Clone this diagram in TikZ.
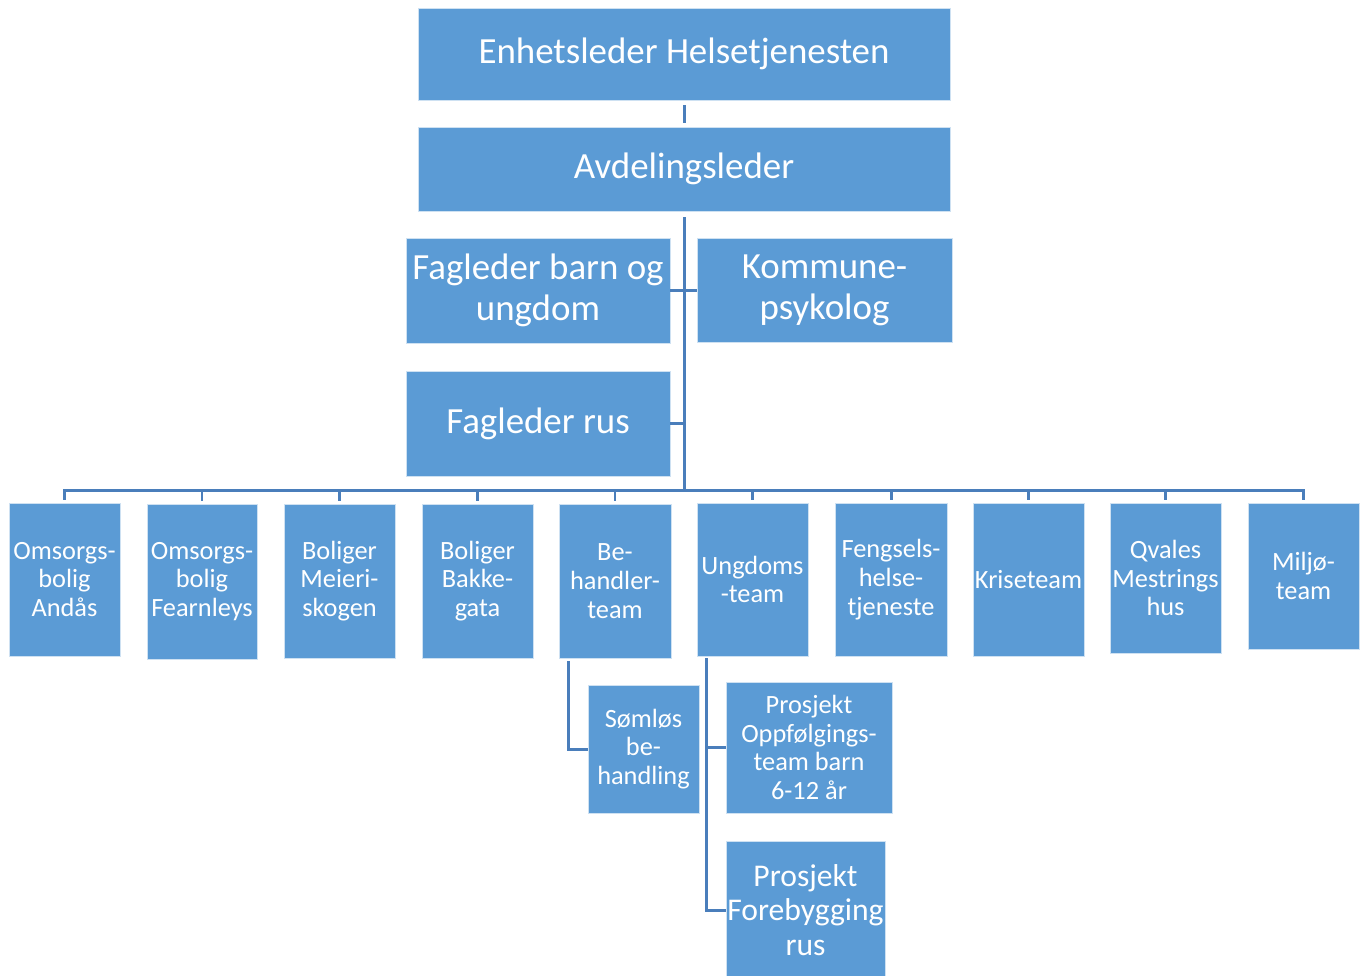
\documentclass[tikz,border=0pt]{standalone}
\usepackage{fontspec}
\setmainfont{Carlito}
\usetikzlibrary{calc}
\definecolor{boxblue}{HTML}{5B9BD5}
\definecolor{linkblue}{HTML}{4A7EBB}
\tikzset{
	boxsize/.style 2 args={minimum width=#1*0.02cm, minimum height=#2*0.02cm},
	orgbox/.style={fill=boxblue, draw=white!70!boxblue, line width=0.4pt, text=white, align=center, inner sep=0pt},
	bigtext/.style={font=\fontsize{21}{23.2}\selectfont},
	midtext/.style={font=\fontsize{18}{19.8}\selectfont},
	smalltext/.style={font=\fontsize{15}{16.4}\selectfont},
	link/.style={draw=linkblue, line width=1.7pt, line join=miter},
}
\begin{document}
\begin{tikzpicture}[x=0.02cm, y=-0.02cm]
	\useasboundingbox (0,0) rectangle (1363,975);

	%top boxes
	\node[orgbox, bigtext, boxsize={532}{92}]  (leader) at (684,54)    {Enhetsleder Helsetjenesten};
	\node[orgbox, bigtext, boxsize={532}{84}]  (avd)    at (684,169)   {Avdelingsleder};
	\node[orgbox, bigtext, boxsize={264}{105}] (fbu)    at (538,290.5) {Fagleder barn og\\ungdom};
	\node[orgbox, bigtext, boxsize={255}{104}] (kpsy)   at (824.5,290) {Kommune-\\psykolog};
	\node[orgbox, bigtext, boxsize={264}{105}] (frus)   at (538,423.5) {Fagleder rus};

	%unit boxes
	\node[orgbox, smalltext, boxsize={111}{153}] (u1)  at (64.5,579.5)   {Omsorgs-\\bolig\\Andås};
	\node[orgbox, smalltext, boxsize={110}{155}] (u2)  at (202,581.5)    {Omsorgs-\\bolig\\Fearnleys};
	\node[orgbox, smalltext, boxsize={111}{154}] (u3)  at (339.5,581)    {Boliger\\Meieri-\\skogen};
	\node[orgbox, smalltext, boxsize={111}{154}] (u4)  at (477.5,581)    {Boliger\\Bakke-\\gata};
	\node[orgbox, smalltext, boxsize={112}{154}] (u5)  at (615,581)      {Be-\\handler-\\team};
	\node[orgbox, smalltext, boxsize={111}{153}] (u6)  at (752.5,579.5)  {Ungdoms\\-team};
	\node[orgbox, smalltext, boxsize={112}{153}] (u7)  at (891,579.5)    {Fengsels-\\helse-\\tjeneste};
	\node[orgbox, smalltext, boxsize={111}{153}] (u8)  at (1028.5,579.5) {Kriseteam};
	\node[orgbox, smalltext, boxsize={111}{150}] (u9)  at (1165.5,578)   {Qvales\\Mestrings\\hus};
	\node[orgbox, smalltext, boxsize={111}{146}] (u10) at (1303.5,576)   {Miljø-\\team};

	%sub boxes
	\node[orgbox, smalltext, boxsize={111}{128}] (soml)  at (643.5,749)  {Sømløs\\be-\\handling};
	\node[orgbox, smalltext, boxsize={166}{131}] (oppf)  at (809,747.5)  {Prosjekt\\Oppfølgings-\\team barn\\6-12 år};
	\node[orgbox, midtext,   boxsize={159}{138}] (foreb) at (805.5,910)  {Prosjekt\\Forebygging\\rus};

	%lines
	\coordinate (bus) at (684,490);
	\draw[link, shorten <=0.1cm, shorten >=0.08cm] (leader.south) -- (avd.north);
	\draw[link, shorten <=0.12cm] (avd.south) -- (bus);
	\draw[link] (fbu.east) -- (fbu.east -| kpsy.west);
	\draw[link] (frus.east) -- (frus.east -| avd.south);
	\draw[link, shorten <=0.06cm, shorten >=0.06cm] (u1.north) |- (bus) -| (u10.north);
	\foreach \u in {u2,u3,u4,u5,u6,u7,u8,u9}
		\draw[link, shorten <=0.06cm] (\u.north) -- (\u.north |- bus);
	\draw[link, shorten <=0.06cm] ([xshift=0.2cm]u5.south west) |- (soml.west);
	\draw[link, shorten <=0.04cm] ([xshift=0.2cm]u6.south west) |- (oppf.west);
	\draw[link, shorten <=0.04cm] ([xshift=0.2cm]u6.south west) |- (foreb.west);
\end{tikzpicture}
\end{document}
